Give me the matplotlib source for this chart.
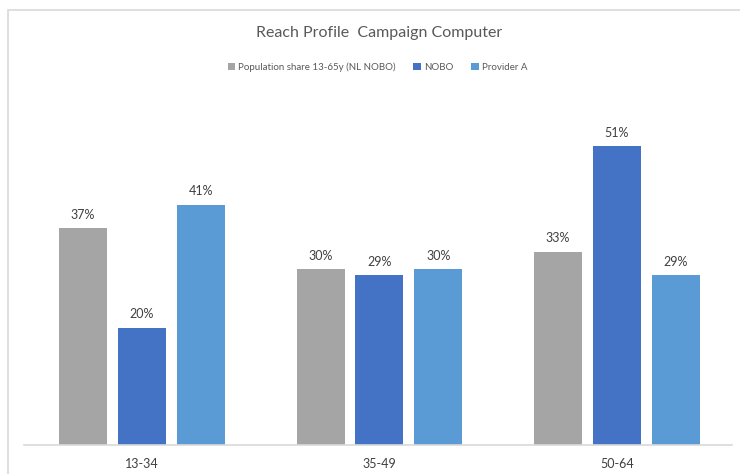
import numpy as np
from matplotlib import pyplot as plt
from matplotlib.patches import Rectangle

categories = ['13-34', '35-49', '50-64']
series_names = ['Population share 13-65y (NL NOBO)', 'NOBO', 'Provider A']
population = [37, 30, 33]
nobo = [20, 29, 51]
provider_a = [41, 30, 29]

colors = ['#A5A5A5', '#4472C4', '#5B9BD5']
plt.rcParams['font.family'] = ['Lato', 'DejaVu Sans']

fig = plt.figure(figsize=(7.4, 4.74), dpi=100)
# chart frame
fig.patches.append(Rectangle((8 / 740, -0.1), 1.0, (474 - 10) / 474 + 0.1,
                             transform=fig.transFigure, fill=False,
                             edgecolor='#d9d9d9', linewidth=1.2))

ax = fig.add_axes([24 / 740, 29 / 474, 708 / 740, (445 - 93.4) / 474])
x = np.arange(len(categories))
width = 0.202
offset = 0.248
for i, vals in enumerate([population, nobo, provider_a]):
    bars = ax.bar(x + (i - 1) * offset, vals, width, color=colors[i],
                  label=series_names[i])
    for b, v in zip(bars, vals):
        ax.text(b.get_x() + b.get_width() / 2, v + 1.25, f'{v}%',
                ha='center', va='bottom', fontsize=9, color='#404040')

ax.set_xlim(-0.497, 2.485)
ax.set_ylim(0, 60)
ax.set_xticks(x)
ax.set_xticklabels(categories, fontsize=9, color='#404040')
ax.tick_params(axis='x', length=0, pad=9)
ax.set_yticks([])
for s in ['top', 'right', 'left']:
    ax.spines[s].set_visible(False)
ax.spines['bottom'].set_color('#d9d9d9')
ax.spines['bottom'].set_linewidth(1.2)

fig.text(0.512, 1 - 33 / 474, 'Reach Profile  Campaign Computer',
         ha='center', va='center', fontsize=11.5, color='#595959')
fig.legend(loc='center', bbox_to_anchor=(0.51, 1 - 67 / 474), ncol=3,
           frameon=False, fontsize=7, handlelength=0.8, handleheight=0.8,
           handletextpad=0.3, columnspacing=1.8, labelcolor='#595959')

fig.savefig('out.png', dpi=100)
